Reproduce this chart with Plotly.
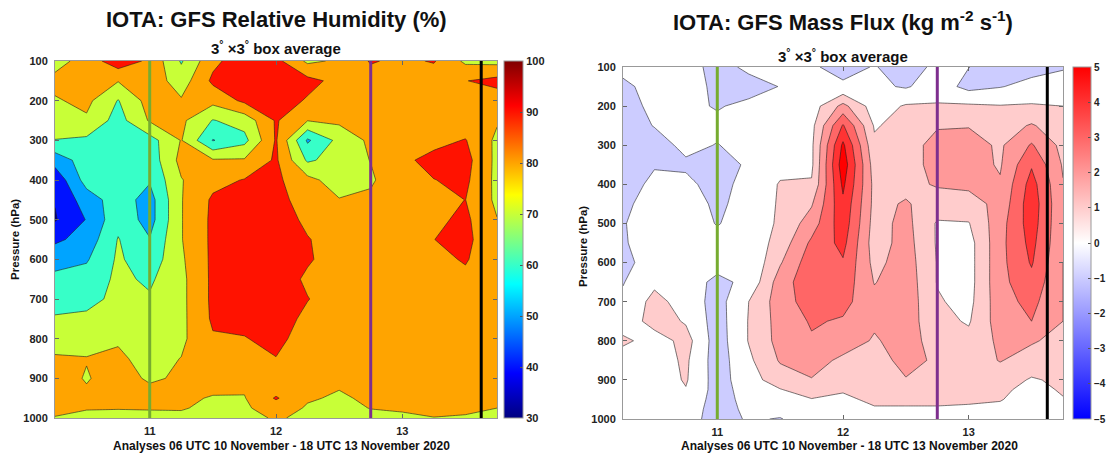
import plotly.graph_objects as go

# ---------------- data ----------------
times = [10.25, 10.5, 10.75, 11.0, 11.25, 11.5, 11.75, 12.0, 12.25, 12.5, 12.75, 13.0, 13.25, 13.5, 13.75]
pressure = [100, 150, 200, 250, 300, 350, 400, 450, 500, 550, 600, 650, 700, 750, 800, 850, 900, 925, 950, 975, 1000]

# Relative humidity (%), rows = pressure levels, columns = analysis times
rh = [
    [76, 84.3, 96, 88, 69, 87.5, 96, 93, 78, 81.5, 90.8, 88, 90.8, 78, 77],
    [83, 84, 80.5, 86, 75, 92, 95, 96, 93, 87, 86, 85, 84, 89.7, 93],
    [79, 82.5, 69.5, 84, 81, 83, 92, 95, 89, 84, 84, 84, 84, 86, 85],
    [74, 78.5, 66, 81, 82, 69.5, 74, 91, 80.3, 82, 83, 84, 85, 84, 81],
    [69.8, 68, 64, 66, 80.5, 59.5, 67, 91, 58.5, 73, 82, 85, 87, 90.5, 78],
    [54, 65, 64, 64, 83, 81, 81, 91.5, 68.5, 74, 80.3, 88, 93, 93.5, 77.5],
    [43, 64, 65, 61, 79.5, 87, 90.5, 92, 83, 75, 78.5, 88, 89.8, 92, 77.5],
    [40.5, 55, 65, 56, 79.5, 91.5, 94, 93, 86, 80.5, 82, 86, 87, 90.1, 78],
    [39.2, 50.5, 67, 56, 79.5, 92, 95, 95, 88, 84, 84, 85, 88, 92, 80.3],
    [48, 54, 70.5, 60.5, 79.5, 92, 95, 96, 90.5, 86, 85, 85, 89.9, 93, 81],
    [57, 59, 71.5, 64, 78.5, 92, 95, 96, 91, 86, 85, 84, 87, 91, 82],
    [62, 64, 72, 68.5, 77.5, 92, 95, 95, 88.5, 86, 85, 84, 85, 87.5, 83],
    [66, 67, 72.5, 71, 77.5, 92, 94, 95, 90.3, 86, 85, 84, 84, 85, 83],
    [71, 72, 76, 74, 77.5, 91.5, 93, 94, 88, 85, 85, 84, 84, 84, 83],
    [76, 77, 79, 75, 78, 89, 89.5, 93, 85, 84, 84, 84, 84, 84, 83],
    [81, 80.3, 81.5, 77, 80.2, 85, 85, 89.7, 83, 83, 84, 84, 84, 84, 83],
    [83, 79.5, 83, 79, 81, 84, 84, 87, 83, 82, 84, 83, 83, 83, 83],
    [83.5, 80.4, 82.5, 81, 83, 82, 81, 86, 82, 80.3, 83, 82, 82.5, 82.5, 82],
    [82, 82, 82, 82.5, 82, 79.2, 79.5, 91, 81, 78.8, 81.5, 82, 82, 82, 81],
    [81, 80.5, 80.3, 80.5, 80.5, 78.5, 78.5, 85, 79, 78, 80.2, 81, 81, 81, 80],
    [79.8, 78, 78, 78, 78.5, 76, 77, 81, 78, 76, 78, 78.5, 79.9, 79.5, 78.5],
]

# Mass flux (kg m-2 s-1)
mf = [
    [0.4, 0.5, 0.6, -0.5, 0.28, 0.3, 0.11, -0.3, 0.05, -0.4, 0.2, 0.02, -0.5, -0.35, -0.1],
    [-0.3, 0.5, 0.4, -0.2, -0.5, 0.04, 0.3, 0.15, 0.2, -0.1, 0.5, -0.3, -0.05, 0.3, 0.5],
    [-0.5, 0.3, 0.3, -0.1, 0.3, 0.2, 0.5, 2.3, 0.5, 1.1, 1.1, 1.15, 1.05, 1.1, 1.0],
    [-0.6, 0.05, 0.2, 0.3, 0.5, 0.4, 0.7, 4.1, 0.9, 1.4, 1.9, 1.95, 1.5, 2.1, 1.4],
    [-0.7, -0.5, 0.3, -0.05, 0.5, 0.5, 0.8, 5.2, 1.2, 1.5, 2.4, 2.4, 1.85, 3.1, 1.7],
    [-0.7, -0.1, -0.2, -0.6, 0.2, 0.8, 0.8, 5.6, 1.5, 1.5, 2.4, 2.4, 1.9, 3.9, 1.9],
    [-0.6, 0.3, 0.3, -0.5, 0.5, 1.05, 1.1, 5.2, 1.7, 1.7, 2.1, 2.2, 2.1, 4.4, 2.05],
    [-0.4, 0.8, 0.5, -0.2, 0.4, 1.1, 1.9, 4.8, 1.7, 2.1, 1.5, 1.6, 2.3, 4.6, 2.1],
    [-0.05, 0.4, 0.5, -0.05, 0.4, 1.15, 2.5, 4.6, 1.6, 2.3, 0.9, 0.95, 2.6, 4.5, 2.1],
    [-0.1, 0.5, 0.5, 0.3, 0.3, 1.4, 3.2, 4.3, 1.5, 2.4, 0.9, 0.6, 2.7, 4.3, 2.1],
    [-0.3, 0.5, 0.5, 0.3, 0.1, 1.9, 3.6, 3.9, 1.7, 2.5, 0.95, 0.6, 2.7, 4.1, 2.0],
    [-0.05, 0.8, 0.4, -0.2, 0.2, 2.5, 3.7, 3.6, 1.95, 2.6, 0.95, 0.6, 2.7, 3.7, 2.0],
    [0.2, 1.3, 0.6, -0.4, 1.0, 2.5, 3.5, 3.3, 2.3, 2.6, 1.1, 0.7, 2.6, 3.3, 2.0],
    [0.2, 1.5, 0.9, -0.45, 1.05, 2.4, 3.1, 2.9, 2.15, 2.5, 1.3, 0.9, 2.5, 3.0, 2.0],
    [1.3, 0.4, 1.4, -0.5, 1.05, 2.35, 2.9, 2.5, 1.9, 2.4, 1.6, 1.3, 2.2, 2.1, 1.7],
    [0.2, 0.5, 1.17, -0.5, 0.8, 2.1, 2.4, 1.8, 1.6, 2.3, 1.85, 1.5, 2.05, 1.6, 1.3],
    [0.2, 0.4, 1.1, -0.45, 0.6, 1.5, 1.95, 1.5, 1.3, 1.95, 1.6, 1.4, 1.5, 0.9, 1.2],
    [0.2, 0.3, 0.95, -0.4, 0.4, 0.95, 1.5, 1.05, 1.2, 1.6, 1.3, 1.2, 1.2, 0.7, 1.1],
    [0.2, 0.3, 0.7, -0.4, 0.3, 0.8, 0.95, 0.9, 1.1, 1.2, 1.1, 1.05, 1.05, 0.6, 0.95],
    [0.2, 0.3, 0.5, -0.4, 0.2, 0.3, 0.7, 0.8, 0.95, 0.9, 0.95, 0.95, 0.8, 0.5, 0.8],
    [0.2, 0.3, 0.4, -0.4, 0.1, -0.05, 0.5, 0.5, 0.5, 0.8, 0.8, 0.8, 0.6, 0.4, 0.7],
]

event_times = [11.0, 12.75, 13.625]
event_colors = ["#77AC30", "#7E2F8E", "#000000"]
x_tickvals = [11, 12, 13]
x_ticktext = ["11", "12", "13"]
y_tickvals = [100, 200, 300, 400, 500, 600, 700, 800, 900, 1000]
rh_cbar_ticks = [30, 40, 50, 60, 70, 80, 90, 100]
mf_cbar_ticks = [-5, -4, -3, -2, -1, 0, 1, 2, 3, 4, 5]
rh_range = (30, 100, 10)
mf_range = (-5, 5, 1)

W, H = 1106, 455
FONT = "Liberation Sans, Arial, Helvetica, sans-serif"


def clip(v):
    return max(0.0, min(1.0, v))


def jet(v):
    r = clip(min(4 * v - 1.5, -4 * v + 4.5))
    g = clip(min(4 * v - 0.5, -4 * v + 3.5))
    b = clip(min(4 * v + 0.5, -4 * v + 2.5))
    return "rgb(%d,%d,%d)" % (round(r * 255), round(g * 255), round(b * 255))


def bwr(val, vmax=5.0):
    if val < 0:
        t = clip((val + vmax) / vmax)
        return "rgb(%d,%d,255)" % (round(t * 255), round(t * 255))
    t = clip(1 - val / vmax)
    return "rgb(255,%d,%d)" % (round(t * 255), round(t * 255))


# fill colour of each band = colour of its lower level (MATLAB contourf style)
lo, hi, st = rh_range
nlev = int(round((hi - lo) / st)) + 1
rh_fill = []
for k in range(nlev + 1):
    if k == 0:
        c = jet(0)
    elif k == nlev:
        c = jet(1)
    else:
        L = lo + (k - 1) * st
        c = jet((L - lo) / (hi - lo))
    rh_fill.append([k / nlev, c])

lo2, hi2, st2 = mf_range
nlev2 = int(round((hi2 - lo2) / st2)) + 1
mf_fill = []
for k in range(nlev2 + 1):
    if k == 0:
        c = bwr(lo2)
    else:
        L = lo2 + (k - 1) * st2
        c = bwr(L)
    mf_fill.append([k / nlev2, c])

jet_cont = [[i / 16, jet(i / 16)] for i in range(17)]
bwr_cont = [[0, "rgb(0,0,255)"], [0.5, "rgb(255,255,255)"], [1, "rgb(255,0,0)"]]


def px_x(p):
    return p / W


def px_y(p):
    return 1 - p / H


L_AX = (55, 497, 61, 418)
R_AX = (623, 1063, 67, 419)

fig = go.Figure()
line_style = dict(color="rgba(30,30,30,0.85)", width=0.7, smoothing=0)

fig.add_trace(go.Contour(
    x=times, y=pressure, z=rh, xaxis="x", yaxis="y",
    colorscale=rh_fill, autocontour=False,
    contours=dict(start=rh_range[0], end=rh_range[1], size=rh_range[2], coloring="fill", showlines=True),
    line=line_style, showscale=False, hoverinfo="skip",
))
fig.add_trace(go.Contour(
    x=times, y=pressure, z=mf, xaxis="x2", yaxis="y2",
    colorscale=mf_fill, autocontour=False,
    contours=dict(start=mf_range[0], end=mf_range[1], size=mf_range[2], coloring="fill", showlines=True),
    line=line_style, showscale=False, hoverinfo="skip",
))

cb_font = dict(family=FONT, size=11, color="#222", weight="bold")


def cbar(ax, ticks):
    x0, x1, y0, y1 = ax
    return dict(
        x=px_x(x1 + 7), xanchor="left", xpad=0, ypad=0,
        y=px_y((y0 + y1) / 2), yanchor="middle",
        len=(y1 - y0) / H, lenmode="fraction",
        thickness=19, thicknessmode="pixels",
        outlinecolor="#999", outlinewidth=1,
        tickvals=ticks, ticks="inside", ticklen=3, tickcolor="#555",
        tickfont=cb_font,
    )


fig.add_trace(go.Scatter(
    x=[times[0], times[0]], y=[pressure[0], pressure[0]], xaxis="x", yaxis="y",
    mode="markers", hoverinfo="skip", showlegend=False,
    marker=dict(size=1, opacity=0, color=[rh_range[0], rh_range[1]], colorscale=jet_cont,
                cmin=rh_range[0], cmax=rh_range[1], showscale=True, colorbar=cbar(L_AX, rh_cbar_ticks)),
))
mf_cb = cbar(R_AX, mf_cbar_ticks)
mf_cb["x"] = px_x(R_AX[1] + 10)
mf_cb["thickness"] = 18
mf_cb["tickfont"] = dict(family=FONT, size=10, color="#222", weight="bold")
fig.add_trace(go.Scatter(
    x=[times[0], times[0]], y=[pressure[0], pressure[0]], xaxis="x2", yaxis="y2",
    mode="markers", hoverinfo="skip", showlegend=False,
    marker=dict(size=1, opacity=0, color=[mf_range[0], mf_range[1]], colorscale=bwr_cont,
                cmin=mf_range[0], cmax=mf_range[1], showscale=True, colorbar=mf_cb),
))

tick_font = dict(family=FONT, size=11, color="#222", weight="bold")


def xaxis(ax, anchor):
    x0, x1, y0, y1 = ax
    return dict(domain=[px_x(x0), px_x(x1)], anchor=anchor, range=[times[0], times[-1]],
                tickvals=x_tickvals, ticktext=x_ticktext, ticks="inside", ticklen=4,
                tickcolor="#666", showline=True, linecolor="#999", linewidth=1, mirror="ticks",
                showgrid=False, zeroline=False, tickfont=tick_font, automargin=False,
                ticklabelstandoff=3)


def yaxis(ax, anchor):
    x0, x1, y0, y1 = ax
    return dict(domain=[px_y(y1), px_y(y0)], anchor=anchor, range=[pressure[-1], pressure[0]],
                tickvals=y_tickvals, ticks="inside", ticklen=4, tickcolor="#666",
                showline=True, linecolor="#999", linewidth=1, mirror="ticks",
                showgrid=False, zeroline=False, tickfont=tick_font, automargin=False,
                ticklabelstandoff=4)


annotations = []


def ann(text, x, y, size, angle=0):
    annotations.append(dict(text=text, x=px_x(x), y=px_y(y), xref="paper", yref="paper",
                            showarrow=False, xanchor="center", yanchor="middle", textangle=angle,
                            font=dict(family=FONT, size=size, color="#111", weight="bold")))


ann("IOTA: GFS Relative Humidity (%)", 276, 20, 22)
ann("3<sup>°</sup> ×3<sup>°</sup> box average", 276, 48, 15)
ann("Analyses 06 UTC 10 November - 18 UTC 13 November 2020", 281, 446, 12)
ann("Pressure (hPa)", 15, 240, 11.5, -90)
ann("IOTA: GFS Mass Flux (kg m<sup>-2</sup> s<sup>-1</sup>)", 843, 21, 22)
ann("3<sup>°</sup> ×3<sup>°</sup> box average", 843, 55, 15)
ann("Analyses 06 UTC 10 November - 18 UTC 13 November 2020", 849, 446, 12)
ann("Pressure (hPa)", 583, 247, 11.5, -90)

shapes = []
for t, c in zip(event_times, event_colors):
    for xr, yr in (("x", "y domain"), ("x2", "y2 domain")):
        shapes.append(dict(type="line", xref=xr, yref=yr, x0=t, x1=t, y0=0, y1=1,
                           line=dict(color=c, width=3), layer="above"))

fig.update_layout(
    width=W, height=H, margin=dict(l=0, r=0, t=0, b=0, autoexpand=False),
    paper_bgcolor="white", plot_bgcolor="white", showlegend=False,
    xaxis=xaxis(L_AX, "y"), yaxis=yaxis(L_AX, "x"),
    xaxis2=xaxis(R_AX, "y2"), yaxis2=yaxis(R_AX, "x2"),
    annotations=annotations, shapes=shapes,
)

fig.write_html("out.html")
